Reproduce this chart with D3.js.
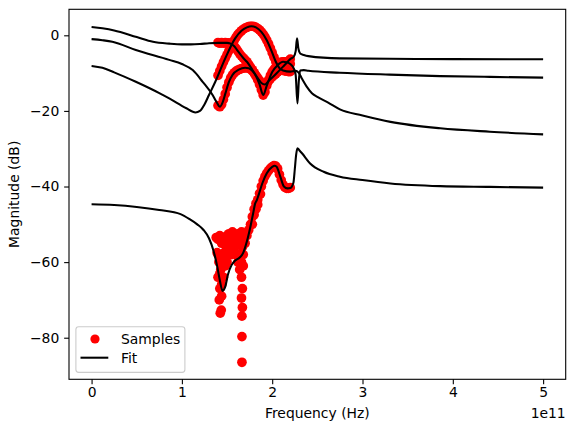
<!DOCTYPE html>
<html>
<head>
<meta charset="utf-8">
<script src="https://cdn.jsdelivr.net/npm/d3@7"></script>
<style>
  html, body { margin: 0; padding: 0; background: #fff; }
  svg { display: block; font-family: "DejaVu Sans", sans-serif; }
</style>
</head>
<body>
<svg id="chart" width="574" height="432"></svg>
<script>
// frequencies are in units of 1e11 Hz, magnitudes in dB

var xTicks = [0, 1, 2, 3, 4, 5];
var yTicks = [-80, -60, -40, -20, 0];

// measured samples (shared frequency grid)
var sampleFreq = [1.40, 1.42, 1.44, 1.46, 1.48, 1.50, 1.52, 1.54, 1.56, 1.58,
                  1.60, 1.62, 1.64, 1.66, 1.68, 1.70, 1.72, 1.74, 1.76, 1.78,
                  1.80, 1.82, 1.84, 1.86, 1.88, 1.90, 1.92, 1.94, 1.96, 1.98,
                  2.00, 2.02, 2.04, 2.06, 2.08, 2.10, 2.12, 2.14, 2.16, 2.18, 2.20];

var sample1 = [-1.9, -2.1, -1.9, -2.1, -1.9, -2.1, -2.0, -2.2, -2.5, -2.9,
               -3.5, -4.2, -4.9, -5.5, -6.0, -6.5, -7.0, -7.7, -8.4, -9.1,
               -9.9, -10.6, -11.3, -12.0, -12.6, -13.0, -13.0, -12.7, -12.1, -11.5,
               -11.0, -10.6, -10.2, -9.7, -9.2, -8.7, -8.2, -7.8, -7.3, -6.8, -6.3];

var sample2 = [-18.6, -18.9, -18.3, -17.0, -15.5, -13.8, -12.4, -11.3, -10.5, -9.9,
               -9.5, -9.2, -9.0, -8.8, -8.7, -8.6, -8.6, -8.7, -9.0, -9.4,
               -10.0, -10.8, -11.8, -13.0, -14.4, -15.8, -15.0, -13.3, -11.8, -10.6,
               -9.7, -9.0, -8.4, -7.9, -7.5, -7.1, -7.0, -7.0, -7.1, -7.3, -7.6];

var sample3 = [-10.6, -9.4, -8.2, -7.1, -6.1, -5.1, -4.1, -3.1, -2.2, -1.3,
               -0.5, 0.2, 0.7, 1.2, 1.6, 1.9, 2.1, 2.3, 2.4, 2.4,
               2.3, 2.1, 1.8, 1.4, 0.9, 0.3, -0.4, -1.3, -2.3, -3.4,
               -4.6, -5.8, -7.0, -8.0, -8.7, -9.1, -9.3, -9.4, -9.5, -9.6, -9.6];

var sample4 = [-58, -63, -66, -64, -61, -60, -58, -56, -55, -57,
               -58, -60, -62, -60, -58, -55, -53, -51.5, -50, -48,
               -46, -44.5, -43.5, -41.8, -40, -38.5, -37.3, -36.5, -35.8, -35.2,
               -34.8, -34.5, -34.6, -35.3, -36.8, -38.3, -39.5, -40.2, -40.5, -40.5, -40.3];

// extra noisy low-level samples of the 4th trace
var sample4Noise = [
  [1.38, -53.5], [1.40, -54], [1.42, -53], [1.44, -55], [1.46, -54], [1.48, -55.5],
  [1.39, -57.5], [1.41, -60], [1.43, -62], [1.45, -59.5], [1.47, -57.5],
  [1.40, -64], [1.42, -67], [1.44, -69], [1.414, -70.0], [1.436, -72.7], [1.425, -73.5],
  [1.50, -53], [1.52, -52.5], [1.54, -53.5], [1.56, -52], [1.58, -53], [1.60, -54],
  [1.52, -56], [1.55, -58], [1.58, -56], [1.62, -55], [1.62, -52.5],
  [1.64, -52.5], [1.66, -52], [1.68, -53.5], [1.67, -56], [1.65, -58], [1.68, -61],
  [1.66, -64], [1.67, -67], [1.66, -69.5], [1.67, -72], [1.665, -74.3],
  [1.665, -79.7], [1.665, -86.5],
  [1.78, -50], [1.80, -47.5], [1.82, -46], [1.84, -44.8], [1.87, -42]
];

// fitted responses [freq, dB]
var fit1 = [[0, 2.2], [0.12, 1.85], [0.25, 1.3], [0.5, -0.45], [0.68, -1.7], [0.86, -2.2],
  [1.0, -2.4], [1.1, -2.4], [1.2, -2.3], [1.3, -2.1], [1.4, -2.0], [1.5, -2.0], [1.54, -2.2],
  [1.58, -2.9], [1.62, -4.2], [1.68, -6.0], [1.72, -7.0], [1.78, -9.1], [1.84, -11.3],
  [1.88, -12.6], [1.92, -13.0], [1.96, -12.1], [2.03, -10.5], [2.14, -7.8], [2.2, -6.3],
  [2.24, -5.6], [2.26, -4.2], [2.275, -0.8], [2.29, -3.5], [2.31, -4.8], [2.35, -5.2],
  [2.4, -5.5], [2.75, -6.1], [3.3, -6.2], [4.0, -6.3], [5.0, -6.35]];

var fit2 = [[0, -1.0], [0.12, -1.3], [0.23, -1.7], [0.49, -3.9], [0.86, -6.5], [1.0, -7.6],
  [1.12, -9.2], [1.23, -12.3], [1.34, -15.8], [1.39, -17.9], [1.42, -18.9], [1.45, -17.8],
  [1.48, -15.5], [1.52, -12.4], [1.56, -10.5], [1.63, -9.1], [1.7, -8.6], [1.74, -8.7],
  [1.78, -9.4], [1.82, -10.8], [1.86, -13.0], [1.90, -15.8], [1.94, -13.3], [2.0, -9.7],
  [2.06, -7.9], [2.12, -7.0], [2.16, -7.1], [2.2, -7.6], [2.24, -8.8], [2.26, -10.5],
  [2.28, -18], [2.295, -12], [2.31, -9.3], [2.35, -9.2], [2.4, -9.4], [2.75, -9.9],
  [3.3, -10.4], [3.86, -10.8], [4.41, -11.0], [5.0, -11.2]];

var fit3 = [[0, -8.1], [0.12, -8.6], [0.25, -9.8], [0.49, -12.3], [0.75, -15.3], [0.86, -16.7],
  [1.05, -19.3], [1.15, -20.4], [1.2, -20.0], [1.25, -18.3], [1.30, -15.8], [1.37, -12.3],
  [1.48, -6.1], [1.59, -0.8], [1.66, 1.2], [1.72, 2.1], [1.77, 2.4], [1.82, 2.1],
  [1.88, 0.9], [1.94, -1.3], [2.0, -4.6], [2.04, -7.0], [2.08, -8.7], [2.12, -9.3],
  [2.2, -9.6], [2.26, -9.4], [2.29, -9.8], [2.33, -11.5], [2.38, -13.5], [2.44, -15.3],
  [2.5, -16.3], [2.62, -17.8], [2.75, -19.6], [3.0, -21.2], [3.31, -22.9], [3.86, -24.6],
  [4.41, -25.5], [5.0, -26.2]];

var fit4 = [[0, -44.7], [0.25, -44.9], [0.5, -45.4], [0.75, -46.2], [0.985, -47.3],
  [1.09, -48.7], [1.17, -50.0], [1.24, -51.5], [1.3, -53.7], [1.35, -57.0], [1.39, -61.0],
  [1.42, -64.8], [1.45, -67.6], [1.48, -66.5], [1.51, -63.3], [1.55, -60.8], [1.59, -59.6],
  [1.64, -58.8], [1.68, -57.5], [1.72, -54.5], [1.76, -50.5], [1.79, -47], [1.81, -44.6],
  [1.83, -43.6], [1.85, -42.2], [1.89, -39.2], [1.94, -36.5], [2.0, -34.8], [2.03, -34.5],
  [2.05, -34.8], [2.09, -37.4], [2.13, -40], [2.17, -40.5], [2.2, -40.4], [2.235, -39.0],
  [2.25, -35.5], [2.265, -31.6], [2.28, -29.9], [2.30, -30.4], [2.33, -31.2], [2.42, -33.9],
  [2.57, -36.1], [2.75, -37.4], [3.0, -38.3], [3.31, -39.2], [3.86, -39.9], [4.41, -40.1],
  [5.0, -40.3]];

var legendLabels = ["Samples", "Fit"];

// ---- layout ----
var plotL = 69, plotR = 565.7, plotT = 9.3, plotB = 379.3;
var fontSize = 13.9;
var dotR = 4.85;

var svg = d3.select("#chart");

var x = d3.scaleLinear().domain([-0.25, 5.25]).range([plotL, plotR]);
var y = d3.scaleLinear().domain([-91.0, 6.88]).range([plotB, plotT]);

svg.append("defs").append("clipPath").attr("id", "plotclip")
  .append("rect")
  .attr("x", plotL).attr("y", plotT)
  .attr("width", plotR - plotL).attr("height", plotB - plotT);

var plot = svg.append("g").attr("clip-path", "url(#plotclip)");

// samples
var samplePoints = [];
[sample1, sample2, sample3, sample4].forEach(function (vals) {
  vals.forEach(function (v, i) { samplePoints.push([sampleFreq[i], v]); });
});
sample4Noise.forEach(function (p) { samplePoints.push(p); });

plot.append("g").selectAll("circle")
  .data(samplePoints)
  .enter().append("circle")
  .attr("cx", function (d) { return x(d[0]); })
  .attr("cy", function (d) { return y(d[1]); })
  .attr("r", dotR)
  .attr("fill", "#ff0000");

// fits
var line = d3.line()
  .x(function (d) { return x(d[0]); })
  .y(function (d) { return y(d[1]); })
  .curve(d3.curveMonotoneX);

[fit1, fit2, fit3, fit4].forEach(function (f) {
  plot.append("path")
    .datum(f)
    .attr("d", line)
    .attr("fill", "none")
    .attr("stroke", "#000")
    .attr("stroke-width", 2.08)
    .attr("stroke-linejoin", "round");
});

// axes
function fmt(d) { return d < 0 ? "\u2212" + Math.abs(d) : String(d); }

var xAxis = svg.append("g")
  .attr("transform", "translate(0," + plotB + ")")
  .call(d3.axisBottom(x).tickValues(xTicks).tickFormat(fmt)
    .tickSize(4.86).tickSizeOuter(0).tickPadding(3.3));

var yAxis = svg.append("g")
  .attr("transform", "translate(" + plotL + ",0)")
  .call(d3.axisLeft(y).tickValues(yTicks).tickFormat(fmt)
    .tickSize(4.86).tickSizeOuter(0).tickPadding(4.86));

[xAxis, yAxis].forEach(function (a) {
  a.select(".domain").remove();
  a.selectAll(".tick line").attr("stroke", "#000").attr("stroke-width", 1.1);
  a.selectAll(".tick text").attr("fill", "#000")
    .style("font-size", fontSize + "px").style("font-family", "DejaVu Sans");
});

// frame
svg.append("rect")
  .attr("x", plotL).attr("y", plotT)
  .attr("width", plotR - plotL).attr("height", plotB - plotT)
  .attr("fill", "none").attr("stroke", "#000").attr("stroke-width", 1.1);

// labels
svg.append("text")
  .attr("x", (plotL + plotR) / 2).attr("y", 418)
  .attr("text-anchor", "middle")
  .style("font-size", fontSize + "px")
  .text("Frequency (Hz)");

svg.append("text")
  .attr("transform", "translate(19," + (plotT + plotB) / 2 + ") rotate(-90)")
  .attr("text-anchor", "middle")
  .style("font-size", fontSize + "px")
  .text("Magnitude (dB)");

svg.append("text")
  .attr("x", plotR).attr("y", 418)
  .attr("text-anchor", "end")
  .style("font-size", fontSize + "px")
  .text("1e11");

// legend
var lg = svg.append("g");
lg.append("rect")
  .attr("x", 75.9).attr("y", 326.7)
  .attr("width", 109).attr("height", 45.7)
  .attr("rx", 2.8).attr("ry", 2.8)
  .attr("fill", "#fff").attr("fill-opacity", 0.8)
  .attr("stroke", "#cccccc").attr("stroke-width", 1.1);

lg.append("circle")
  .attr("cx", 95).attr("cy", 339)
  .attr("r", 4.6).attr("fill", "#ff0000");

lg.append("line")
  .attr("x1", 80.5).attr("x2", 108.3)
  .attr("y1", 357.7).attr("y2", 357.7)
  .attr("stroke", "#000").attr("stroke-width", 2.08);

lg.selectAll("text.lab")
  .data(legendLabels)
  .enter().append("text")
  .attr("class", "lab")
  .attr("x", 121)
  .attr("y", function (d, i) { return i === 0 ? 343.5 : 362.8; })
  .style("font-size", fontSize + "px")
  .text(function (d) { return d; });
</script>
</body>
</html>
